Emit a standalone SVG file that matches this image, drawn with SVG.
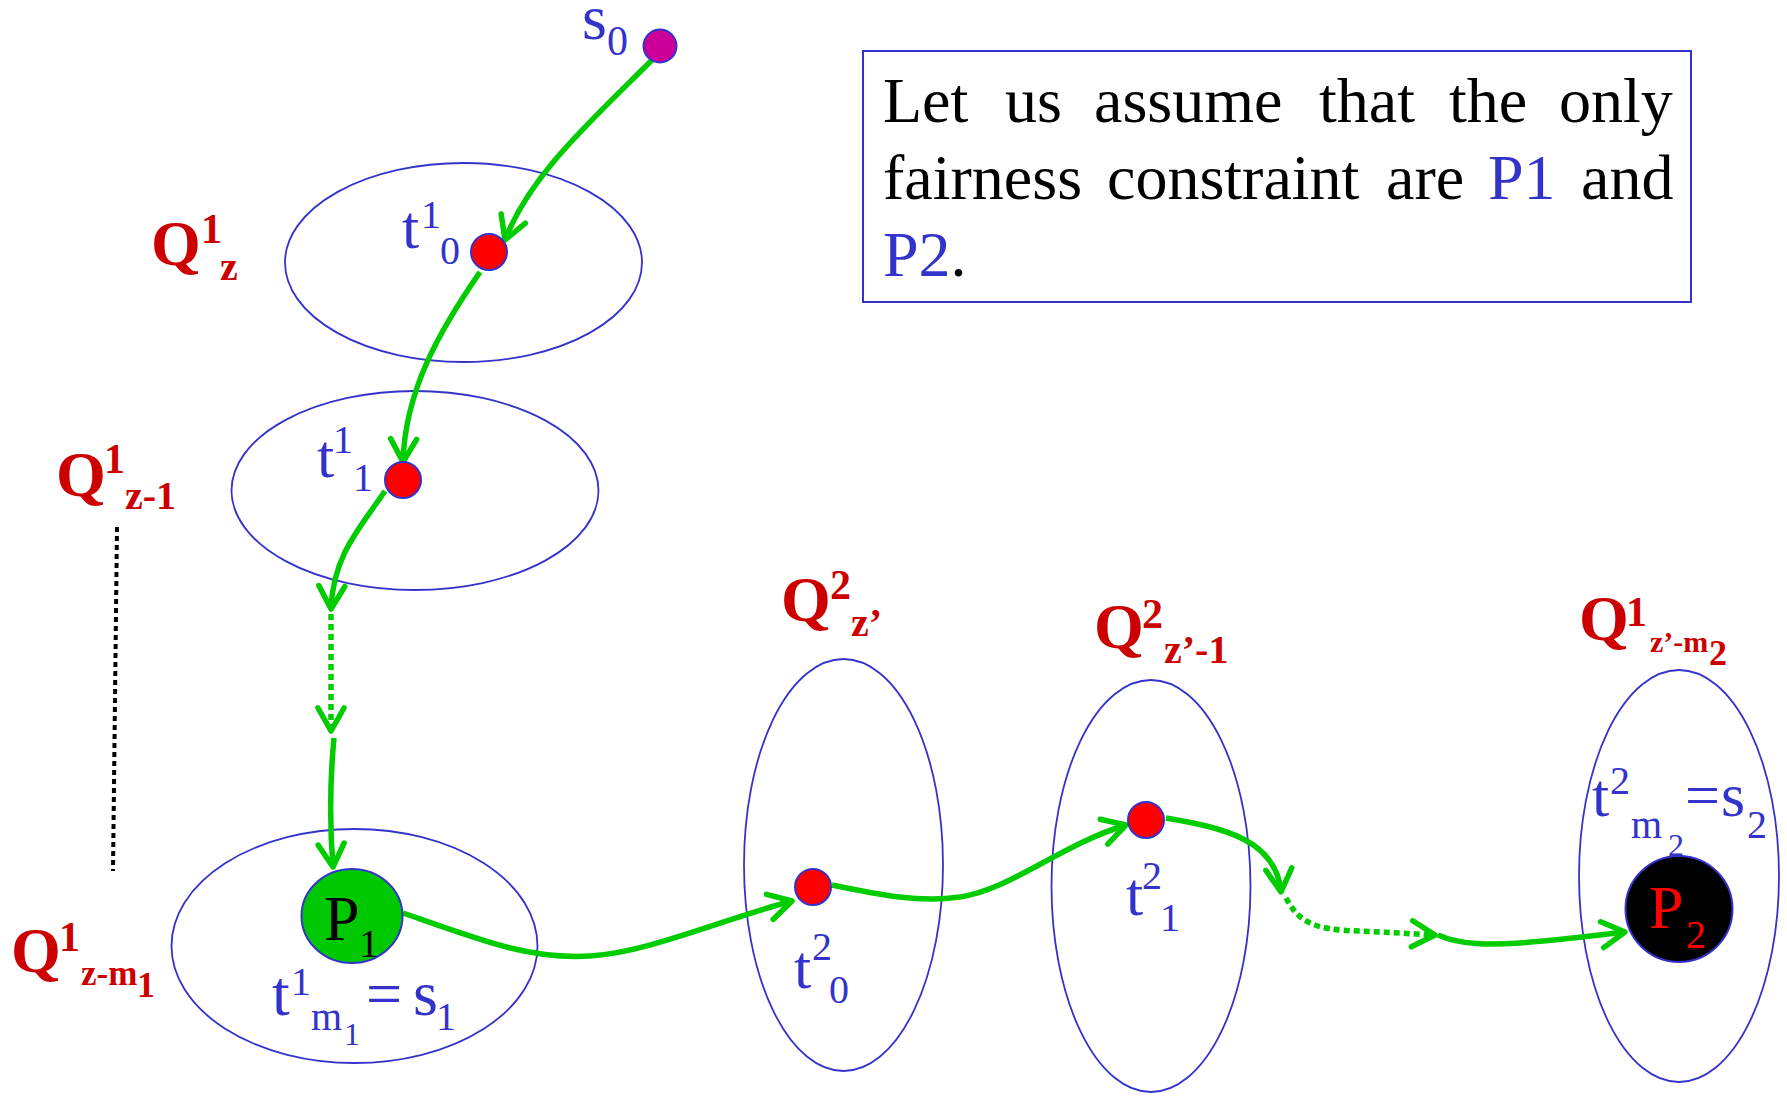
<svg xmlns="http://www.w3.org/2000/svg" width="1787" height="1097" viewBox="0 0 1787 1097">
<style>
.set{fill:none;stroke:#3333CC;stroke-width:1.8}
.dot{fill:#FF0000;stroke:#3333CC;stroke-width:2}
.m{font-family:"Liberation Serif","Times New Roman",serif;fill:#3333CC}
.q{font-family:"Liberation Serif","Times New Roman",serif;font-weight:bold;fill:#CC0000}
.edge{fill:none;stroke:#00CC00;stroke-width:5.5;marker-end:url(#arr)}
.dash{stroke-dasharray:6 4}
.body{font-family:"Liberation Serif","Times New Roman",serif;font-size:64px;fill:#000000}
.hl{fill:#3333CC}
</style>
<defs>
<marker id="arr" markerUnits="userSpaceOnUse" markerWidth="60" markerHeight="60" viewBox="-30 -30 60 60" refX="0" refY="0" orient="auto" overflow="visible">
<path d="M -23 -13 L 0 0 L -23 13" fill="none" stroke="#00CC00" stroke-width="5.5" stroke-linecap="round" stroke-linejoin="round"/>
</marker>
</defs>
<rect width="1787" height="1097" fill="#FFFFFF"/>

<g id="note">
<rect x="863" y="51" width="828" height="251" fill="none" stroke="#3333CC" stroke-width="2"/>
<text class="body"><tspan x="883" y="122">Let</tspan><tspan x="1005" y="122">us</tspan><tspan x="1094" y="122">assume</tspan><tspan x="1319" y="122">that</tspan><tspan x="1449" y="122">the</tspan><tspan x="1559" y="122">only</tspan></text>
<text class="body"><tspan x="883" y="199">fairness</tspan><tspan x="1107" y="199">constraint</tspan><tspan x="1386" y="199">are</tspan><tspan x="1488" y="199" class="hl">P1</tspan><tspan x="1581" y="199">and</tspan></text>
<text class="body"><tspan x="883" y="276" class="hl">P2</tspan><tspan>.</tspan></text>
</g>

<g id="guide">
<line x1="117" y1="527" x2="113" y2="871" stroke="#000000" stroke-width="4" stroke-dasharray="5 4"/>
</g>

<g id="Q1z">
<ellipse class="set" cx="463.5" cy="262.5" rx="178.5" ry="99.5"/>
<text class="q"><tspan x="151" y="265" font-size="64">Q</tspan><tspan x="201" y="243" font-size="42">1</tspan><tspan x="220" y="280" font-size="40">z</tspan></text>
</g>
<g id="Q1z-1">
<ellipse class="set" cx="415" cy="490.5" rx="183.5" ry="99.5"/>
<text class="q"><tspan x="56" y="496" font-size="64">Q</tspan><tspan x="104" y="473" font-size="42">1</tspan><tspan x="125" y="509" font-size="40">z-1</tspan></text>
</g>
<g id="Q1z-m1">
<ellipse class="set" cx="354.5" cy="946" rx="183" ry="117"/>
<text class="q"><tspan x="11" y="972" font-size="64">Q</tspan><tspan x="59" y="951" font-size="42">1</tspan><tspan x="81" y="985" font-size="35">z-m</tspan><tspan x="137" y="997" font-size="36">1</tspan></text>
</g>
<g id="Q2z">
<ellipse class="set" cx="843.5" cy="865" rx="99.5" ry="206"/>
<text class="q"><tspan x="781" y="621" font-size="64">Q</tspan><tspan x="830" y="599" font-size="42">2</tspan><tspan x="851" y="636" font-size="40">z’</tspan></text>
</g>
<g id="Q2z-1">
<ellipse class="set" cx="1151" cy="886" rx="99.5" ry="206"/>
<text class="q"><tspan x="1094" y="648" font-size="64">Q</tspan><tspan x="1142" y="628" font-size="42">2</tspan><tspan x="1164" y="663" font-size="40">z’-1</tspan></text>
</g>
<g id="Q1z-m2">
<ellipse class="set" cx="1679" cy="876" rx="100" ry="206"/>
<text class="q"><tspan x="1579" y="640" font-size="64">Q</tspan><tspan x="1626" y="626" font-size="42">1</tspan><tspan x="1650" y="652" font-size="30">z’-m</tspan><tspan x="1709" y="665" font-size="36">2</tspan></text>
</g>

<g id="connectors">
<path class="edge" d="M 653 59 C 590 122, 530 175, 505 240"/>
<path class="edge" d="M 480 272 C 440 330, 405 390, 403 462"/>
<path class="edge" d="M 385 491 C 360 528, 333 555, 331 609"/>
<path class="edge dash" d="M 331 614 L 331 731"/>
<path class="edge" d="M 334 738 C 330 780, 330 830, 333 867"/>
<path class="edge" d="M 403 913 C 480 940, 530 960, 590 956 C 650 952, 720 920, 792 901"/>
<path class="edge" d="M 832 885 C 880 895, 920 903, 960 897 C 1010 890, 1060 845, 1126 825"/>
<path class="edge" d="M 1166 818 C 1225 828, 1276 840, 1281 892"/>
<path class="edge dash" d="M 1286 898 C 1298 920, 1310 930, 1360 931 L 1435 935"/>
<path class="edge" d="M 1438 935 C 1460 945, 1490 945, 1520 943 C 1560 940, 1600 935, 1625 932"/>
</g>

<g id="s0">
<circle cx="660" cy="46" r="16.5" fill="#CC0099" stroke="#3333CC" stroke-width="2"/>
<text class="m"><tspan x="582" y="39" font-size="64">s</tspan><tspan x="607" y="55" font-size="42">0</tspan></text>
</g>
<g id="t1_0">
<circle class="dot" cx="489" cy="252" r="18"/>
<text class="m"><tspan x="402" y="248" font-size="62">t</tspan><tspan x="421" y="228" font-size="40">1</tspan><tspan x="440" y="264" font-size="40">0</tspan></text>
</g>
<g id="t1_1">
<circle class="dot" cx="403" cy="480" r="18"/>
<text class="m"><tspan x="317" y="477" font-size="62">t</tspan><tspan x="333" y="453" font-size="40">1</tspan><tspan x="353" y="491" font-size="40">1</tspan></text>
</g>
<g id="P1">
<ellipse cx="352" cy="916" rx="50.5" ry="47" fill="#00C800" stroke="#3333CC" stroke-width="2"/>
<text font-family="Liberation Serif, Times New Roman, serif" fill="#000000"><tspan x="324" y="940" font-size="64">P</tspan><tspan x="359" y="957" font-size="40">1</tspan></text>
<text class="m"><tspan x="272" y="1015" font-size="64">t</tspan><tspan x="291" y="995" font-size="40">1</tspan><tspan x="311" y="1030" font-size="40">m</tspan><tspan x="344" y="1045" font-size="32">1</tspan><tspan x="366" y="1015" font-size="64">=</tspan><tspan x="413" y="1015" font-size="64">s</tspan><tspan x="436" y="1030" font-size="40">1</tspan></text>
</g>
<g id="t2_0">
<circle class="dot" cx="813" cy="887" r="18"/>
<text class="m"><tspan x="794" y="988" font-size="62">t</tspan><tspan x="812" y="960" font-size="40">2</tspan><tspan x="829" y="1003" font-size="40">0</tspan></text>
</g>
<g id="t2_1">
<circle class="dot" cx="1146" cy="820" r="18"/>
<text class="m"><tspan x="1126" y="915" font-size="62">t</tspan><tspan x="1142" y="889" font-size="40">2</tspan><tspan x="1160" y="931" font-size="40">1</tspan></text>
</g>
<g id="P2">
<ellipse cx="1679" cy="909" rx="53.5" ry="53" fill="#000000" stroke="#3333CC" stroke-width="2"/>
<text font-family="Liberation Serif, Times New Roman, serif" fill="#FF0000"><tspan x="1649" y="928" font-size="62">P</tspan><tspan x="1686" y="948" font-size="40">2</tspan></text>
<text class="m"><tspan x="1592" y="816" font-size="62">t</tspan><tspan x="1610" y="794" font-size="40">2</tspan><tspan x="1631" y="838" font-size="40">m</tspan><tspan x="1668" y="856" font-size="32">2</tspan><tspan x="1685" y="816" font-size="62">=</tspan><tspan x="1721" y="816" font-size="62">s</tspan><tspan x="1747" y="838" font-size="40">2</tspan></text>
</g>
</svg>
